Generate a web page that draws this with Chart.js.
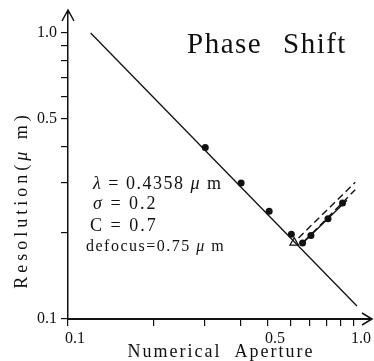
<!DOCTYPE html>
<html>
<head>
<meta charset="utf-8">
<script src="https://cdn.jsdelivr.net/npm/chart.js@4/dist/chart.umd.min.js"></script>
<style>
  html, body { margin: 0; padding: 0; background: #fff; }
  #wrap { width: 374px; height: 361px; }
</style>
</head>
<body>
<div id="wrap"><canvas id="resChart" width="374" height="361"></canvas></div>
<script>
// ==============================
//  data
// ==============================
const xTickValues = [0.1, 0.2, 0.3, 0.4, 0.5, 0.6, 0.7, 0.8, 0.9, 1.0];
const xTickLabels = ["0.1", "", "", "", "0.5", "", "", "", "", "1.0"];
const yTickValues = [0.1, 0.2, 0.3, 0.4, 0.5, 0.6, 0.7, 0.8, 0.9, 1.0];
const yTickLabels = ["0.1", "", "", "", "0.5", "", "", "", "", "1.0"];

// theoretical limit line
const idealNA = [0.12, 1.024];
const idealRes = [1.0, 0.111];

// measured points on the limit line
const measuredNA = [0.302, 0.403, 0.505, 0.604];
const measuredRes = [0.398, 0.299, 0.238, 0.198];

// open triangle
const limitNA = [0.618];
const limitRes = [0.185];

// defocus branch
const defocusNA = [0.661, 0.707, 0.811, 0.912];
const defocusRes = [0.1845, 0.196, 0.224, 0.2545];
const defocusFitNA = [0.658, 0.945];
const defocusFitRes = [0.1834, 0.26];

// dashed guides
const upperDashNA = [0.64, 1.01];
const upperDashRes = [0.192, 0.3005];
const lowerDashNA = [0.67, 1.01];
const lowerDashRes = [0.187, 0.283];

const pts = (xs, ys) => xs.map((x, i) => ({ x: x, y: ys[i] }));

const INK = "#111";
const SERIF = "'Liberation Serif', 'DejaVu Serif', serif";

// ==============================
//  text + arrows plugin
// ==============================
const drawRuns = (ctx, x, y, runs, size, spacing) => {
  ctx.letterSpacing = spacing + "px";
  runs.forEach(([txt, italic]) => {
    ctx.font = (italic ? "italic " : "") + size + "px " + SERIF;
    ctx.fillText(txt, x, y);
    x += ctx.measureText(txt).width;
  });
};

const decorPlugin = {
  id: "decor",
  afterDraw(chart) {
    const { ctx, chartArea } = chart;
    const { left, right, top, bottom } = chartArea;
    const tipX = 372, tipY = 10;
    ctx.save();
    ctx.fillStyle = INK;
    ctx.strokeStyle = INK;

    // --- axis extensions + arrows ---
    ctx.lineWidth = 1.5;
    ctx.beginPath();
    ctx.moveTo(left, top);
    ctx.lineTo(left, tipY);
    ctx.moveTo(left - 6, tipY + 11);
    ctx.lineTo(left, tipY);
    ctx.lineTo(left + 6, tipY + 11);
    ctx.stroke();
    ctx.lineWidth = 2;
    ctx.beginPath();
    ctx.moveTo(right, bottom);
    ctx.lineTo(tipX, bottom);
    ctx.stroke();
    ctx.lineWidth = 1.5;
    ctx.beginPath();
    ctx.moveTo(tipX - 10, bottom - 6);
    ctx.lineTo(tipX, bottom);
    ctx.lineTo(tipX - 10, bottom + 6);
    ctx.stroke();

    // --- title ---
    ctx.textBaseline = "alphabetic";
    ctx.textAlign = "left";
    drawRuns(ctx, 187, 53, [["Phase", false]], 29, 1.5);
    drawRuns(ctx, 283, 53, [["Shift", false]], 29, 1.5);

    // --- conditions ---
    drawRuns(ctx, 93, 189, [["λ", true], [" = 0.4358 ", false], ["μ", true], [" m", false]], 18, 1.5);
    drawRuns(ctx, 93, 209, [["σ", true], [" = 0.2", false]], 18, 2);
    drawRuns(ctx, 90, 231, [["C = 0.7", false]], 18, 2);
    drawRuns(ctx, 86, 251, [["defocus=0.75 ", false], ["μ", true], [" m", false]], 16, 1.5);

    // --- axis titles ---
    ctx.textAlign = "center";
    ctx.letterSpacing = "2px";
    ctx.font = "18px " + SERIF;
    ctx.fillText("Numerical  Aperture", 221, 357);

    ctx.save();
    ctx.translate(27, 200);
    ctx.rotate(-Math.PI / 2);
    ctx.textAlign = "left";
    const parts = [["Resolution(", false], ["μ", true], [" m)", false]];
    ctx.letterSpacing = "4px";
    let w = 0;
    parts.forEach(([t, it]) => { ctx.font = (it ? "italic " : "") + "18px " + SERIF; w += ctx.measureText(t).width; });
    drawRuns(ctx, -w / 2, 0, parts, 18, 4);
    ctx.restore();

    ctx.restore();
  }
};

// ==============================
//  chart
// ==============================
const axisBase = (values, labels) => ({
  type: "logarithmic",
  grid: { display: true, drawOnChartArea: false, drawTicks: true, tickLength: 7, color: INK, lineWidth: 1.2 },
  afterBuildTicks: (scale) => { scale.ticks = values.map(v => ({ value: v })); },
  ticks: {
    autoSkip: false,
    maxRotation: 0,
    color: INK,
    font: { family: SERIF, size: 16 },
    callback: (val, i) => labels[i]
  }
});

const xAxis = axisBase(xTickValues, xTickLabels);
xAxis.min = 0.1;
xAxis.max = 1.1176;
xAxis.border = { display: true, color: INK, width: 2 };
xAxis.ticks.padding = 3;
xAxis.ticks.labelOffset = 7;
xAxis.afterFit = (s) => { s.height = 42; };

const yAxis = axisBase(yTickValues, yTickLabels);
yAxis.min = 0.1;
yAxis.max = 1.169;
yAxis.border = { display: true, color: INK, width: 1.5 };
yAxis.ticks.padding = 4;
yAxis.afterFit = (s) => { s.width = 68; };

new Chart(document.getElementById("resChart"), {
  type: "scatter",
  data: {
    datasets: [
      { data: pts(idealNA, idealRes), showLine: true, pointRadius: 0, borderColor: INK, borderWidth: 1.3 },
      { data: pts(measuredNA, measuredRes), pointRadius: 3.5, backgroundColor: INK, borderColor: INK, borderWidth: 0 },
      { data: pts(limitNA, limitRes), pointStyle: "triangle", pointRadius: 5, backgroundColor: "#fff", borderColor: INK, borderWidth: 1.2 },
      { data: pts(defocusFitNA, defocusFitRes), showLine: true, pointRadius: 0, borderColor: INK, borderWidth: 1.3 },
      { data: pts(defocusNA, defocusRes), pointRadius: 3.5, backgroundColor: INK, borderColor: INK, borderWidth: 0 },
      { data: pts(upperDashNA, upperDashRes), showLine: true, pointRadius: 0, borderColor: INK, borderWidth: 1.4, borderDash: [7, 4] },
      { data: pts(lowerDashNA, lowerDashRes), showLine: true, pointRadius: 0, borderColor: INK, borderWidth: 1.4, borderDash: [7, 4] }
    ]
  },
  options: {
    responsive: false,
    animation: false,
    layout: { padding: { top: 10, right: 2, left: 0, bottom: 0 } },
    scales: { x: xAxis, y: yAxis },
    plugins: {
      legend: { display: false },
      tooltip: { enabled: false }
    }
  },
  plugins: [decorPlugin]
});
</script>
</body>
</html>
